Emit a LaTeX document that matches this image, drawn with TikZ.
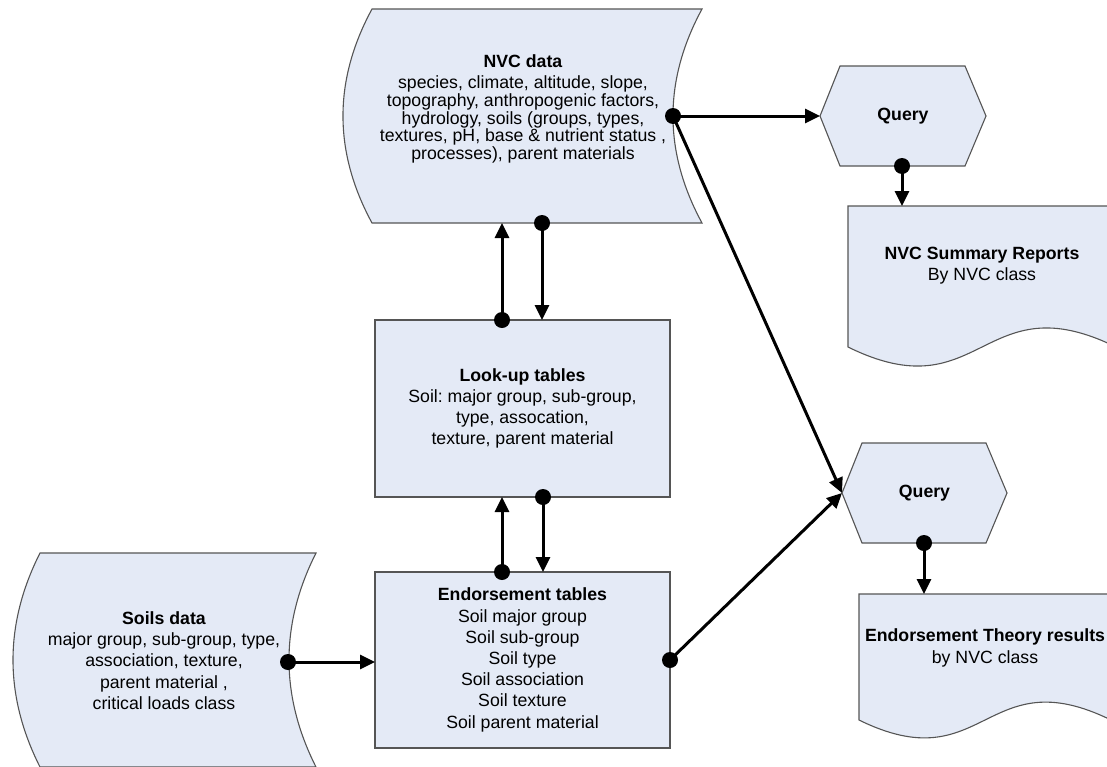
\documentclass[tikz,border=0pt]{standalone}
\usepackage{fontspec}
\setmainfont{Liberation Sans}
\usetikzlibrary{arrows.meta}
\definecolor{shapefill}{RGB}{228,234,246}
\definecolor{shapeline}{RGB}{85,85,85}
\frenchspacing
\begin{document}
\begin{tikzpicture}[x=1pt,y=-1pt,
  shp/.style={fill=shapefill,draw=shapeline,line width=1.1pt},
  txt/.style={align=center,font=\fontsize{17.7}{21.2}\selectfont,inner sep=0pt},
  conn/.style={line width=3pt,-{Triangle[length=15pt 0,width=14pt 0]}},
  dot/.style={circle,fill=black,inner sep=0pt,minimum size=16pt}
]
\useasboundingbox (0,0) rectangle (1107,766);
\clip (0,0) rectangle (1107,766);

% NVC data (stored data shape)
\path[shp] (372,9) -- (702,9) .. controls (663.3,80.3) and (663.3,151.7) .. (702,223)
  -- (372,223) .. controls (333.3,151.7) and (333.3,80.3) .. (372,9) -- cycle;
\node[txt,font=\fontsize{17.7}{17.7}\selectfont] (nvc) at (523,109)
  {\textbf{NVC data}\\[3.3pt]species, climate, altitude, slope,\\topography, anthropogenic factors,\\hydrology, soils (groups, types,\\textures, pH, base \& nutrient status ,\\processes), parent materials};

% Soils data
\path[shp] (40,553) -- (316,553) .. controls (280,624.3) and (280,695.7) .. (316,767)
  -- (40,767) .. controls (4,695.7) and (4,624.3) .. (40,553) -- cycle;
\node[txt] (soils) at (164,660.5)
  {\textbf{Soils data}\\major group, sub-group, type,\\association, texture,\\parent material ,\\critical loads class};

% Look-up tables
\path[shp] (375,320) rectangle (670,497);
\node[txt] (lookup) at (522.5,408.5)
  {\textbf{Look-up tables}\\Soil: major group, sub-group,\\type, assocation,\\texture, parent material};

% Endorsement tables
\path[shp] (375,572) rectangle (670,748);
\node[txt] (endorse) at (522.5,660)
  {\textbf{Endorsement tables}\\Soil major group\\Soil sub-group\\Soil type\\Soil association\\Soil texture\\Soil parent material};

% Query 1
\path[shp] (820,116) -- (840,66) -- (965,66) -- (986,116) -- (965,166) -- (840,166) -- cycle;
\node[txt] (query1) at (903,116) {\textbf{Query}};

% Query 2
\path[shp] (842,493) -- (862,443) -- (986,443) -- (1007,493) -- (986,543) -- (862,543) -- cycle;
\node[txt] (query2) at (924.5,493) {\textbf{Query}};

% Document 1
\path[shp] (848,206) -- (1116,206) -- (1116,347) .. controls (982,281) and (982,413) .. (848,347) -- cycle;
\node[txt] (doc1) at (982,265.5) {\textbf{NVC Summary Reports}\\By NVC class};

% Document 2
\path[shp] (859,594) -- (1111,594) -- (1111,720) .. controls (985,658) and (985,782) .. (859,720) -- cycle;
\node[txt] (doc2) at (985,648) {\textbf{Endorsement Theory results}\\by NVC class};

% connection points
\coordinate (nvcR) at (673,116);
\coordinate (q1W) at (820,116);
\coordinate (q2W) at (842,493);
\coordinate (q1S) at (902,166);
\coordinate (d1N) at (902,206);
\coordinate (q2S) at (924,543);
\coordinate (d2N) at (924,594);
\coordinate (endE) at (670,660);
\coordinate (soilR) at (288,662);
\coordinate (endW) at (375,662);
\coordinate (lkN1) at (502,320);
\coordinate (nvcS1) at (502,223);
\coordinate (nvcS2) at (542,223);
\coordinate (lkN2) at (542,320);
\coordinate (enN1) at (502,572);
\coordinate (lkS1) at (502,497);
\coordinate (lkS2) at (543,497);
\coordinate (enN2) at (543,572);

% connectors
\draw[conn] (nvcR) -- (q1W);
\draw[conn] (nvcR) -- (q2W);
\draw[conn] (q1S) -- (d1N);
\draw[conn] (q2S) -- (d2N);
\draw[conn] (endE) -- (q2W);
\draw[conn] (soilR) -- (endW);
\draw[conn] (lkN1) -- (nvcS1);
\draw[conn] (nvcS2) -- (lkN2);
\draw[conn] (enN1) -- (lkS1);
\draw[conn] (lkS2) -- (enN2);

% dots
\node[dot] (dot1) at (nvcR) {};
\node[dot] (dot2) at (q1S) {};
\node[dot] (dot3) at (q2S) {};
\node[dot] (dot4) at (endE) {};
\node[dot] (dot5) at (soilR) {};
\node[dot] (dot6) at (lkN1) {};
\node[dot] (dot7) at (nvcS2) {};
\node[dot] (dot8) at (enN1) {};
\node[dot] (dot9) at (lkS2) {};
\end{tikzpicture}
\end{document}
